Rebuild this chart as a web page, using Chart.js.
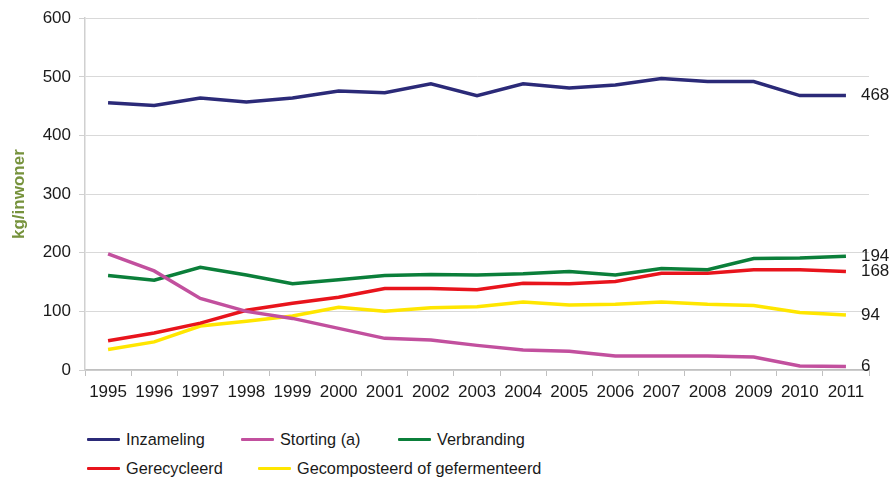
<!DOCTYPE html>
<html>
<head>
<meta charset="utf-8">
<script src="https://cdn.jsdelivr.net/npm/chart.js@4/dist/chart.umd.min.js"></script>
<style>
  html, body { margin: 0; padding: 0; background: #fff; }
  #wrap { position: relative; width: 896px; height: 480px; font-family: "Liberation Sans", Arial, sans-serif; }
  #cv { position: absolute; left: 0; top: 0; }
  .leg { position: absolute; display: flex; align-items: center; font-size: 16.3px; color: #1a1a1a; }
  .leg span.sw { display: inline-block; width: 33px; height: 3px; margin-right: 6px; border-radius: 1px; }
</style>
</head>
<body>
<div id="wrap">
  <div style="position:absolute;left:0;top:0;width:896px;height:400px;"><canvas id="cv"></canvas></div>
  <div id="legend"></div>
</div>
<script>
const years = ["1995","1996","1997","1998","1999","2000","2001","2002","2003","2004","2005","2006","2007","2008","2009","2010","2011"];
const inzameling   = [456,451,464,457,464,476,473,488,468,488,481,486,497,492,492,468,468];
const storting     = [198,169,122,100,88,71,54,51,42,34,32,24,24,24,22,7,6];
const verbranding  = [161,153,175,162,147,154,161,163,162,164,168,162,173,171,190,191,194];
const gerecycleerd = [50,63,80,102,114,124,139,139,137,148,147,151,165,165,171,171,168];
const gecomposteerd= [35,48,75,83,92,107,100,106,108,116,111,112,116,112,110,98,94];
const seriesNames = ["Inzameling","Storting (a)","Verbranding","Gerecycleerd","Gecomposteerd of gefermenteerd"];
const seriesColors = ["#2b2a78","#c2509e","#0b7f3a","#e8141c","#ffe600"];
const endLabels = ["468","6","194","168","94"];
const yTicks = [0,100,200,300,400,500,600];

const allData = [inzameling, storting, verbranding, gerecycleerd, gecomposteerd];
const FONT = '"Liberation Sans", Arial, sans-serif';

const endLabelPlugin = {
  id: 'endLabels',
  afterDatasetsDraw(chart) {
    const ctx = chart.ctx;
    ctx.save();
    ctx.font = '17px ' + FONT;
    ctx.fillStyle = '#1a1a1a';
    ctx.textBaseline = 'middle';
    ctx.textAlign = 'left';
    chart.data.datasets.forEach((ds, i) => {
      const meta = chart.getDatasetMeta(i);
      const pt = meta.data[meta.data.length - 1];
      ctx.fillText(endLabels[i], pt.x + 15, pt.y);
    });
    ctx.restore();
  }
};

new Chart(document.getElementById('cv'), {
  type: 'line',
  data: {
    labels: years,
    datasets: allData.map((d, i) => ({
      label: seriesNames[i],
      data: d,
      borderColor: seriesColors[i],
      backgroundColor: seriesColors[i],
      borderWidth: 3.5,
      pointRadius: 0,
      tension: 0,
      fill: false
    }))
  },
  options: {
    responsive: true,
    maintainAspectRatio: false,
    animation: false,
    layout: { padding: { left: 0, right: 27, top: 8, bottom: 0 } },
    plugins: { legend: { display: false }, tooltip: { enabled: false } },
    scales: {
      x: {
        offset: true,
        grid: { offset: true, drawOnChartArea: false, drawTicks: true, tickLength: 6, color: '#c0c0c0' },
        border: { color: '#c0c0c0', width: 1.5 },
        ticks: { color: '#1a1a1a', font: { family: FONT, size: 17 }, maxRotation: 0, autoSkip: false, padding: 6 },
        afterFit(scale) { scale.height = 30; }
      },
      y: {
        min: 0, max: 600,
        afterBuildTicks(scale) { scale.ticks = yTicks.map(v => ({ value: v })); },
        grid: { color: '#d9d9d9', lineWidth: 1, tickLength: 6, tickColor: '#d0d0d0' },
        border: { color: '#d0d0d0', width: 1.5 },
        ticks: { color: '#1a1a1a', font: { family: FONT, size: 17 }, padding: 8 },
        title: { display: true, text: 'kg/inwoner', color: '#76923c', font: { family: FONT, size: 17, weight: 'bold' }, padding: { top: 9, bottom: 0 } },
        afterFit(scale) { scale.width = 85; }
      }
    }
  },
  plugins: [endLabelPlugin]
});

// HTML legend
const legendPos = [[87,440],[241,440],[398,440],[87,469],[258,469]];
const lg = document.getElementById('legend');
seriesNames.forEach((n, i) => {
  const d = document.createElement('div');
  d.className = 'leg';
  d.style.left = legendPos[i][0] + 'px';
  d.style.top = (legendPos[i][1] - 10) + 'px';
  d.innerHTML = '<span class="sw" style="background:' + seriesColors[i] + '"></span>' + n;
  lg.appendChild(d);
});
</script>
</body>
</html>
